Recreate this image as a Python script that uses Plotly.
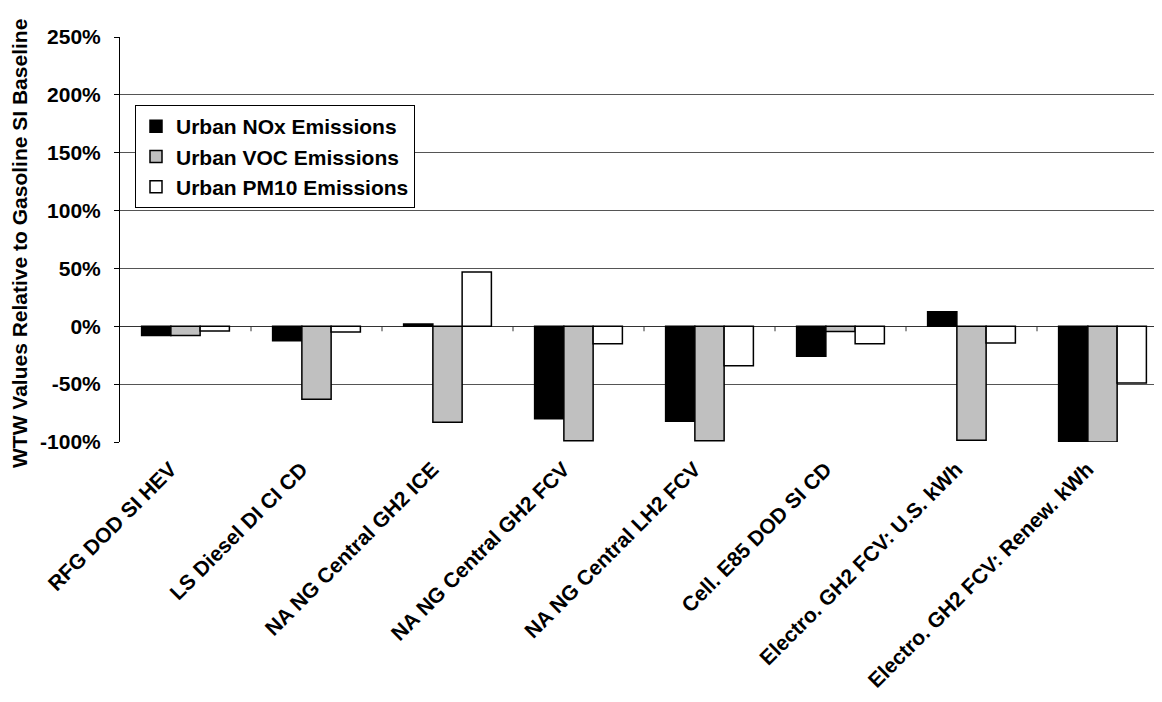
import plotly.graph_objects as go

categories = ["RFG DOD SI HEV", "LS Diesel DI CI CD", "NA NG Central GH2 ICE",
              "NA NG Central GH2 FCV", "NA NG Central LH2 FCV", "Cell. E85 DOD SI CD",
              "Electro. GH2 FCV: U.S. kWh", "Electro. GH2 FCV: Renew. kWh"]
nox = [-8, -12.5, 2, -80, -82, -26, 12.5, -100]
voc = [-8, -63, -83, -99, -99, -4.5, -98.5, -100]
pm10 = [-4, -5, 47, -15, -34, -15, -14.5, -49]
series_names = ["Urban NOx Emissions", "Urban VOC Emissions", "Urban PM10 Emissions"]
series_colors = ["#000000", "#c0c0c0", "#ffffff"]
y_ticks = [-100, -50, 0, 50, 100, 150, 200, 250]
y_tick_labels = ["-100%", "-50%", "0%", "50%", "100%", "150%", "200%", "250%"]
y_title = "WTW Values Relative to Gasoline SI Baseline"

FONT = "Liberation Sans, Arial, sans-serif"

fig = go.Figure()
for name, vals, col in zip(series_names, [nox, voc, pm10], series_colors):
    fig.add_trace(go.Bar(x=categories, y=vals, name=name,
                         marker=dict(color=col, line=dict(color="black", width=1.5))))

# small tick marks below the zero line at the category boundaries
for i in range(len(categories) - 1):
    fig.add_shape(type="line", xref="x", yref="y", x0=i + 0.5, x1=i + 0.5,
                  ysizemode="pixel", yanchor=0, y0=0, y1=-5,
                  line=dict(color="#333", width=1))

W, H = 1162, 694
ymin, ymax = -100, 250
L, R, T, B = 112, 2, 29, 260
PW, PH = W - L - R, H - T - B
fig.update_layout(
    width=W, height=H,
    margin=dict(l=L, r=R, t=T, b=B),
    paper_bgcolor="white", plot_bgcolor="white",
    font=dict(family=FONT, color="black"),
    barmode="group", bargap=0.33, bargroupgap=0,
    xaxis=dict(showgrid=False, tickangle=-45, ticks="", automargin=False,
               tickfont=dict(size=21, family=FONT, weight="bold"),
               ticklabelstandoff=10, ticklabelshift=-15,
               showline=False, zeroline=False),
    yaxis=dict(range=[ymin, ymax], tickvals=y_ticks, ticktext=y_tick_labels,
               automargin=False,
               showgrid=True, gridcolor="#555", gridwidth=1,
               zeroline=True, zerolinecolor="#333", zerolinewidth=1,
               showline=True, linecolor="black", linewidth=1,
               ticks="outside", ticklen=5, tickcolor="black", ticklabelstandoff=9,
               tickfont=dict(size=21, family=FONT, weight="bold")),
    legend=dict(x=15 / PW, y=1 - 68 / PH,
                xanchor="left", yanchor="top",
                bordercolor="black", borderwidth=1, bgcolor="white",
                font=dict(size=21, family=FONT, weight="bold"),
                itemwidth=30, tracegroupgap=0),
    showlegend=True,
    annotations=[dict(text=y_title, textangle=-90, xref="paper", yref="paper",
                      x=(12 - L) / PW, y=1 - (236 - T) / PH, xanchor="center", yanchor="middle",
                      showarrow=False, font=dict(size=21, family=FONT, weight="bold"))],
)

fig.write_html("out.html")
